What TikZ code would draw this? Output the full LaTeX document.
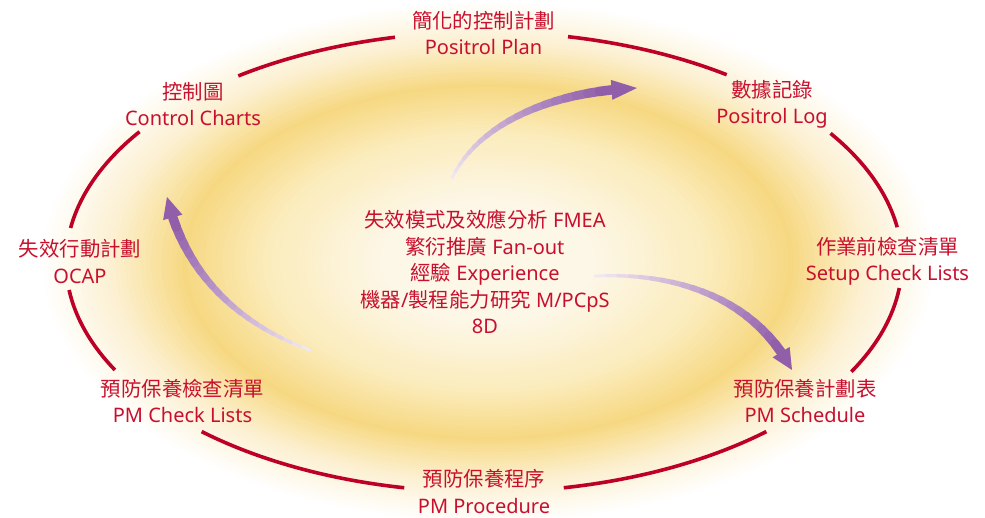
\documentclass[tikz,border=0pt]{standalone}
\usepackage{fontspec}
\setmainfont{Noto Sans}
\newfontfamily\cjk{Noto Sans CJK TC}[Scale=1.02]
\usetikzlibrary{calc}
\definecolor{txtred}{RGB}{200,16,46}
\definecolor{arcred}{RGB}{188,0,38}
\definecolor{purpH}{RGB}{145,95,170}
\definecolor{purpT}{RGB}{246,238,244}
\definecolor{glowC}{RGB}{253,247,232}
\definecolor{glowM}{RGB}{251,236,188}
\definecolor{glowY}{RGB}{247,216,130}
\definecolor{glowE}{RGB}{252,240,208}
\tikzset{
  lbl/.style={text=txtred, align=center, font=\fontsize{20}{26.5}\selectfont, inner sep=0pt},
  arcline/.style={draw=arcred, line width=3.6pt},
}
\newcommand\glowseg[5]{%
  \foreach \k in {0,...,13}{
    \pgfmathsetmacro\f{#1-(#1-#2)*\k/14}
    \pgfmathtruncatemacro\p{100*\k/14}
    \fill[#4!\p!#3] (G) ellipse [x radius=450pt*\f, y radius=262pt*\f];
  }
}
\newcommand\fadearrow[5]{%
  \path #1 .. controls #2 and #3 .. #4
    \foreach \k [evaluate=\k as \q using 0.91*\k/20] in {0,...,20}{ coordinate[pos=\q] (#5-\k) }
    coordinate[pos=1] (#5-tip);
  \foreach \k [remember=\k as \j (initially 0)] in {1,...,20}{
    \pgfmathsetmacro\w{2.5+7*\k/20}
    \pgfmathtruncatemacro\p{100*\k/20}
    \draw[line width=\w pt, line cap=round, draw=purpH!\p!purpT] (#5-\j) -- (#5-\k);
  }
  \fill[purpH] (#5-tip) -- ($(#5-20)!10pt!90:(#5-tip)$) -- ($(#5-20)!10pt!-90:(#5-tip)$) -- cycle;
}
\begin{document}
\begin{tikzpicture}[x=1pt,y=1pt]
\useasboundingbox (0,0) rectangle (985,518);
\fill[white] (0,0) rectangle (985,518);
% glow
\coordinate (G) at (488,256);
\glowseg{1.0}{0.84}{white}{glowE}{}
\glowseg{0.84}{0.68}{glowE}{glowY}{}
\glowseg{0.68}{0.50}{glowY}{glowM}{}
\glowseg{0.50}{0.24}{glowM}{glowC}{}
\fill[glowC] (G) ellipse [x radius=108pt, y radius=63pt];
% arrows
\fadearrow{(452,340)}{(475,388)}{(540,426)}{(637,430)}{A}
\fadearrow{(595,242)}{(680,246)}{(755,218)}{(792,148)}{B}
\fadearrow{(310,168)}{(240,193)}{(185,243)}{(167,321)}{C}
% ellipse arcs
\coordinate (O) at (484,256);
\foreach \a/\b in {126/102.3, 78.4/54.5, 34/8.7, -6.5/-28.5, -47.5/-79, -101/-132.5, 208/187, 171.5/145.5}
  \draw[arcline] ($(O)+(\a:418pt and 230pt)$) arc[start angle=\a, end angle=\b, x radius=418pt, y radius=230pt];
% labels
\node[lbl] (plan) at (483.5,485) {{\cjk 簡化的控制計劃}\\Positrol Plan};
\node[lbl] (log) at (772,413.5) {{\cjk 數據記錄}\\Positrol Log};
\node[lbl] (setup) at (887.5,256.5) {{\cjk 作業前檢查清單}\\Setup Check Lists};
\node[lbl] (sched) at (805,117) {{\cjk 預防保養計劃表}\\PM Schedule};
\node[lbl] (proc) at (484,26.5) {{\cjk 預防保養程序}\\PM Procedure};
\node[lbl] (check) at (182.5,117) {{\cjk 預防保養檢查清單}\\PM Check Lists};
\node[lbl] (ocap) at (80,256.5) {{\cjk 失效行動計劃}\\OCAP};
\node[lbl] (chart) at (193,414) {{\cjk 控制圖}\\Control Charts};
\node[lbl] (center) at (485,246) {{\cjk 失效模式及效應分析} FMEA\\{\cjk 繁衍推廣} Fan-out\\{\cjk 經驗} Experience\\{\cjk 機器}/{\cjk 製程能力研究} M/PCpS\\8D};
\end{tikzpicture}
\end{document}
